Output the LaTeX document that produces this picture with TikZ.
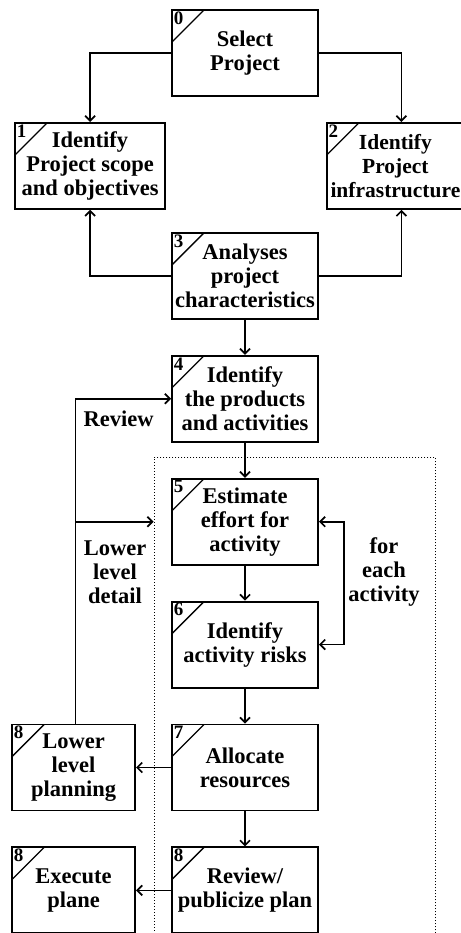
\documentclass[tikz,border=0pt]{standalone}
\usepackage{fontspec}
\setmainfont{Liberation Serif}
\usepackage{tikz}
\usetikzlibrary{arrows.meta,positioning,fit,calc}

\begin{document}
\begin{tikzpicture}[
    x=1pt,y=1pt,
    node distance=35pt and 35pt,
    box/.style={draw,line width=1.9pt,minimum width=146pt,minimum height=86pt,align=center,inner sep=2pt,
      font=\fontsize{22.5}{24}\selectfont\bfseries,
      path picture={\draw[line width=1.3pt] ([yshift=-32pt]path picture bounding box.north west) -- ([xshift=32pt]path picture bounding box.north west);}},
    num/.style={label={[anchor=north west,inner sep=2.5pt,font=\fontsize{19}{19}\selectfont\bfseries]north west:#1}},
    sidebox/.style={box,minimum width=123pt},
    lbl/.style={align=center,font=\fontsize{22.5}{24}\selectfont\bfseries},
    arr/.style={-{Straight Barb[length=5pt,width=10pt]},line width=1.7pt},
    arrboth/.style={{Straight Barb[length=5pt,width=10pt]}-{Straight Barb[length=5pt,width=10pt]},line width=1.7pt},
    dotbox/.style={draw,dotted,line width=1pt,inner sep=0pt}
  ]
    \useasboundingbox (0,0) rectangle (460,-933);

    % PROJECT LEVEL
    \node[box,num=0] (sel) at (245,-53) {Select\\Project};
    \node[box,num=1,minimum width=150pt,below left=25pt and 5pt of sel] (scope) {Identify\\Project scope\\and objectives};
    \node[box,num=2,minimum width=137pt,font=\fontsize{21.5}{24}\selectfont\bfseries,
      below right=25pt and 7pt of sel] (infra) {Identify\\Project\\infrastructure};
    \node[box,num=3,below=135pt of sel] (anal) {Analyses\\project\\characteristics};
    \node[box,num=4,below=of anal] (prod) {Identify\\the products\\and activities};

    % ACTIVITY LEVEL
    \node[box,num=5,below=of prod] (est) {Estimate\\effort for\\activity};
    \node[box,num=6,below=of est] (risk) {Identify\\activity risks};
    \node[box,num=7,below=of risk] (alloc) {Allocate\\resources};
    \node[box,num=8,below=of alloc] (revw) {Review/\\publicize plan};
    \node[sidebox,num=8,left=of alloc] (lower) {Lower\\level\\planning};
    \node[sidebox,num=8,left=of revw] (exec) {Execute\\plane};

    % dotted frame round steps 5 to 8
    \coordinate (lpnw) at ($(est.north west)+(-17,20)$);
    \coordinate (lpse) at ($(revw.south east)+(117,-8)$);
    \node[dotbox,fit=(lpnw)(lpse)] (loop) {};

    % Arrows - project level
    \draw[arr] (sel.west) -| (scope.north);
    \draw[arr] (sel.east) -| ([xshift=6pt]infra.north);
    \draw[arr] (anal.west) -| (scope.south);
    \draw[arr] (anal.east) -| ([xshift=6pt]infra.south);
    \draw[arr] (anal) -- (prod);
    \draw[arr] (prod) -- (est);

    % Arrows - activity level
    \draw[arr] (est) -- (risk);
    \draw[arr] (risk) -- (alloc);
    \draw[arr] (alloc) -- (revw);
    \draw[arrboth] (est.east) -- ++(25,0) |- (risk.east);
    \draw[arr] (alloc) -- (lower);
    \draw[arr] (revw) -- (exec);

    % Feedback from lower level planning
    \draw[arr] ([xshift=2pt]lower.north) |- (prod.west);
    \draw[arr] ([xshift=2pt]lower.north |- est.west) -- (loop.west |- est.west);

    % Labels
    \node[lbl,left=14pt of prod.west,yshift=-20pt] (revlbl) {Review};
    \node[lbl] (detlbl) at ($(est.west)+(-56,-51)$) {Lower\\level\\detail};
    \node[lbl] (eachlbl) at ($(est.east)+(65,-50)$) {for\\each\\activity};
  \end{tikzpicture}
\end{document}
